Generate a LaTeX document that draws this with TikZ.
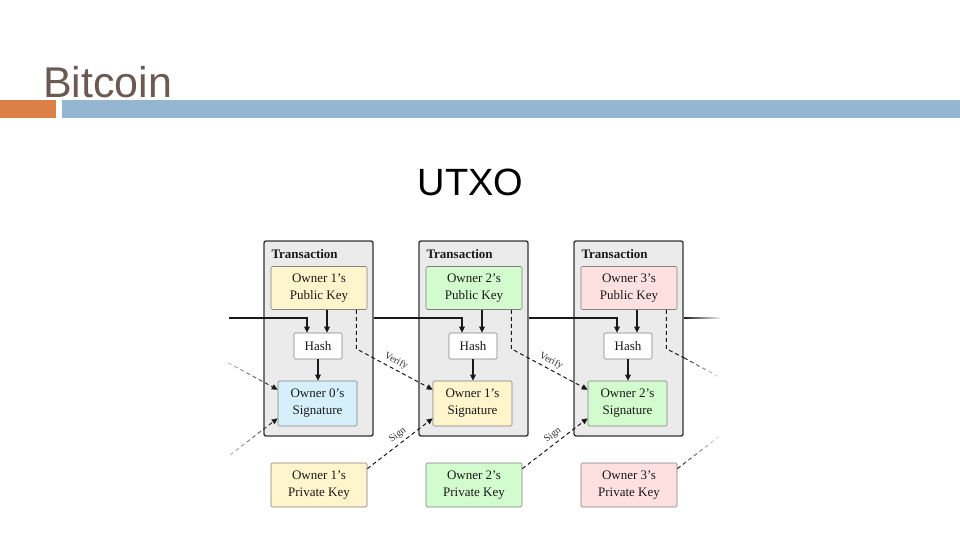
\documentclass[tikz,border=0pt]{standalone}
\usepackage{fontspec}
\setmainfont{Liberation Serif}
\newfontfamily\sansf{Liberation Sans}
\usetikzlibrary{arrows.meta,calc,fadings}
\definecolor{titlec}{RGB}{107,90,84}
\definecolor{orangebar}{RGB}{221,128,71}
\definecolor{bluebar}{RGB}{148,182,210}
\definecolor{cyel}{RGB}{255,245,204}
\definecolor{cgrn}{RGB}{210,252,205}
\definecolor{cpnk}{RGB}{255,224,224}
\definecolor{cblu}{RGB}{213,240,251}
\definecolor{txfill}{RGB}{235,235,235}
\tikzfading[name=fadeleft, left color=transparent!75, right color=transparent!0]
\tikzfading[name=faderight, left color=transparent!0, right color=transparent!95]
\begin{document}
\begin{tikzpicture}[x=1pt,y=-1pt,
  txbox/.style={draw=black!80,fill=txfill,line width=1.4pt,rounded corners=2pt,
    minimum width=109pt,minimum height=195pt,inner sep=0pt},
  inbox/.style={draw=black!50,line width=0.6pt,rounded corners=1.2pt,align=center,
    inner sep=0pt,font=\fontsize{13}{17}\selectfont,text=black!90},
  keybox/.style={inbox,minimum width=96pt,minimum height=43pt},
  hashbox/.style={inbox,fill=white,minimum width=48pt,minimum height=26pt},
  sigbox/.style={inbox,minimum width=79pt,minimum height=45pt},
  txlabel/.style={anchor=base west,inner sep=0pt,font=\bfseries\fontsize{13}{15}\selectfont,text=black!90},
  tip/.style={-{Triangle[length=6pt,width=5.5pt]}},
  solidln/.style={tip,line width=1.1pt,black!90},
  chainln/.style={tip,line width=1.4pt,black!90},
  dashln/.style={tip,line width=1pt,black!90,dash pattern=on 4pt off 3pt},
  lab/.style={font=\fontsize{10}{10}\selectfont,inner sep=1pt,text=black!80}
]
\fill[white] (0,0) rectangle (960,540);
\useasboundingbox (0,0) rectangle (960,540);

% title
\node[anchor=base west,inner sep=0pt,text=titlec,font=\sansf\fontsize{43}{45}\selectfont] (title) at (43,98) {Bitcoin};
\fill[orangebar] (0,100) rectangle (56,118);
\fill[bluebar] (62,100) rectangle (960,118);
\node[anchor=base,inner sep=0pt,text=black,font=\sansf\fontsize{38}{40}\selectfont] (utxo) at (470.5,196) {UTXO};

% coordinates
\coordinate (yc) at (0,318);
\coordinate (L) at (229,318);
\coordinate (R) at (720,318);
\coordinate (VL) at (228,362.7);
\coordinate (SL) at (230,455);
\coordinate (VR1) at (684,357.8);
\coordinate (VR2) at (720,377.4);
\coordinate (SR) at (720,435.8);

% nodes
\foreach \i/\pc/\sc in {1/cyel/cblu, 2/cgrn/cyel, 3/cpnk/cgrn}{
  \pgfmathsetmacro\dx{155*(\i-1)}
  \node[txbox] (t\i) at (318.5+\dx,338.5) {};
  \node[txlabel] (tl\i) at ([shift={(8,18.5)}]t\i.north west) {Transaction};
  \node[keybox,fill=\pc] (k\i) at (319+\dx,288) {Owner \i's\\Public Key};
  \node[hashbox] (h\i) at (318+\dx,346) {Hash};
  \pgfmathtruncatemacro\pv{\i-1}
  \node[sigbox,fill=\sc] (s\i) at (317.5+\dx,403.5) {Owner \pv's\\Signature};
  \node[keybox,fill=\pc,minimum height=44pt] (p\i) at (319+\dx,485) {Owner \i's\\Private Key};
}

% connectors inside each transaction
\foreach \i in {1,2,3}{
  \draw[solidln] ([xshift=9pt]h\i.north |- k\i.south) -- ([xshift=9pt]h\i.north);
  \draw[solidln] (h\i.south) -- (h\i.south |- s\i.north);
}

% chain line
\draw[chainln] (L) -| ([xshift=-11pt]h1.north);
\draw[chainln] (t1.east |- yc) -| ([xshift=-11pt]h2.north);
\draw[chainln] (t2.east |- yc) -| ([xshift=-11pt]h3.north);
\draw[line width=1.4pt,black!90,path fading=faderight] (t3.east |- yc) -- (R);

% verify and sign
\foreach \i in {1,2}{
  \pgfmathtruncatemacro\nx{\i+1}
  \draw[dashln] ([xshift=-11pt]k\i.south east) -- ++(0,39)
     -- node[lab,sloped,above=2pt,pos=0.47] {Verify} ([yshift=-9pt]s\nx.north west);
  \draw[dashln] ([yshift=-6pt]p\i.north east)
     -- node[lab,sloped,above=2pt,pos=0.54] {Sign} ([yshift=8pt]s\nx.south west);
}
\draw[dashln,path fading=fadeleft] (VL) -- ([yshift=-9pt]s1.north west);
\draw[dashln,path fading=fadeleft] (SL) -- ([yshift=8pt]s1.south west);
\draw[dashln,-] ([xshift=-11pt]k3.south east) -- ++(0,39) -- (VR1);
\draw[dashln,-,path fading=faderight] (VR1) -- (VR2);
\draw[dashln,-,path fading=faderight] ([yshift=-6pt]p3.north east) -- (SR);
\end{tikzpicture}
\end{document}
